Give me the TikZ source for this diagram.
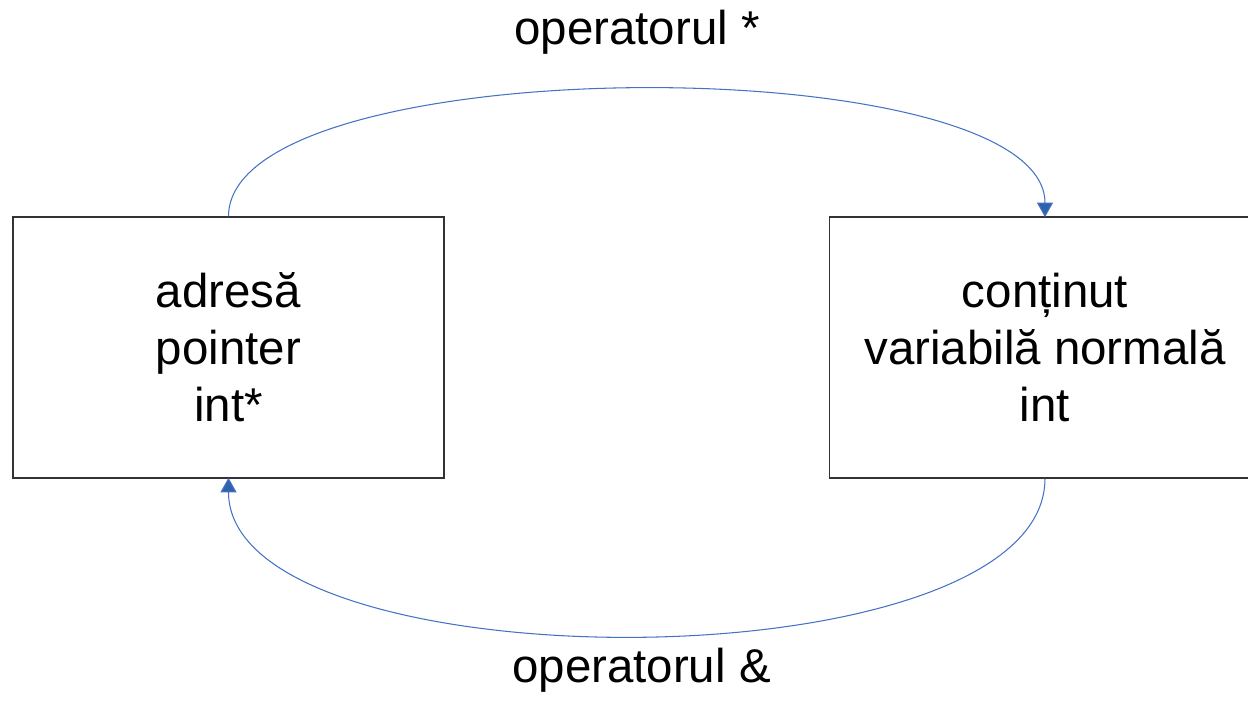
\documentclass[tikz,border=0pt]{standalone}
\usepackage{fontspec}
\setmainfont{Liberation Sans}
\usetikzlibrary{positioning,arrows.meta}
\definecolor{ArcBlue}{RGB}{68,114,196}
\definecolor{TipBlue}{RGB}{47,98,170}

\begin{document}
\begin{tikzpicture}[font=\fontsize{27}{32.5}\selectfont, every node/.style={align=center}]
\tikzset{
  box/.style={draw=black!80, line width=0.6pt, minimum width=8.62cm, minimum height=5.22cm, inner sep=0pt},
  arr/.style={-{Triangle[length=0.29cm, width=0.32cm, fill=TipBlue]}, ArcBlue, line width=0.6pt, shorten >=-0.4pt},
  lbl/.style={anchor=base, inner sep=0pt}
}
  \useasboundingbox (0,0) rectangle (24.96,-14.04);
  \node[box] (ptr) at (4.57,-6.95) {adresă\\pointer\\int*};
  \node[box] (val) at (20.90,-6.95) {conținut\\variabilă normală\\int};
  \node[lbl] (star) at (12.74,-0.90) {operatorul *};
  \node[lbl] (amp) at (12.83,-13.66) {operatorul \&};

  % dereference goes over the top, address-of comes back underneath
  \draw[arr] (ptr.north) .. controls +(0,3.39) and +(0,3.39) .. (val.north);
  \draw[arr] (val.south) .. controls +(0,-4.19) and +(0,-4.19) .. (ptr.south);
\end{tikzpicture}
\end{document}
